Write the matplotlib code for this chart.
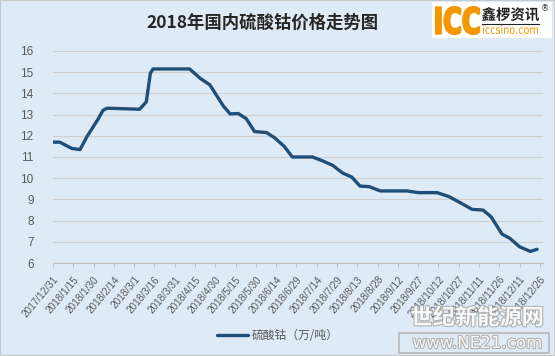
import matplotlib
matplotlib.use('Agg')
import matplotlib.pyplot as plt
import matplotlib.patheffects as pe
from matplotlib.textpath import TextPath
from matplotlib.patches import PathPatch
from matplotlib.font_manager import FontProperties
from matplotlib.transforms import Affine2D
from datetime import date, timedelta

plt.rcParams['font.family'] = ['Noto Sans CJK SC', 'DejaVu Sans']

# price of cobalt sulfate (10k yuan / ton)
dates = ['2017-12-31', '2018-01-05', '2018-01-14', '2018-01-20', '2018-01-25',
         '2018-02-02', '2018-02-06', '2018-02-09', '2018-03-05', '2018-03-10',
         '2018-03-13', '2018-03-15', '2018-04-11', '2018-04-19', '2018-04-26',
         '2018-05-01', '2018-05-06', '2018-05-11', '2018-05-17', '2018-05-23',
         '2018-05-29', '2018-06-07', '2018-06-13', '2018-06-20', '2018-06-26',
         '2018-07-04', '2018-07-11', '2018-07-19', '2018-07-26', '2018-08-02',
         '2018-08-09', '2018-08-15', '2018-08-22', '2018-08-30', '2018-09-19',
         '2018-09-27', '2018-10-11', '2018-10-20', '2018-10-28', '2018-11-06',
         '2018-11-14', '2018-11-20', '2018-11-28', '2018-12-04', '2018-12-11',
         '2018-12-19', '2018-12-24']
prices = [11.7, 11.7, 11.4, 11.35, 11.95,
          12.75, 13.2, 13.3, 13.25, 13.6,
          14.95, 15.15, 15.15, 14.7, 14.4,
          13.9, 13.4, 13.03, 13.05, 12.8,
          12.2, 12.15, 11.9, 11.5, 11.0,
          11.0, 11.0, 10.8, 10.6, 10.25,
          10.05, 9.63, 9.6, 9.4, 9.4,
          9.32, 9.32, 9.13, 8.85, 8.53,
          8.5, 8.18, 7.37, 7.16, 6.77,
          6.55, 6.65]

title = '2018年国内硫酸钴价格走势图'
series_name = '硫酸钴（万/吨）'
yticks = [6, 7, 8, 9, 10, 11, 12, 13, 14, 15, 16]

bg = '#DEEBF7'
line_color = '#1F4E79'
text_gray = '#595959'
orange = '#F39800'

x = [date.fromisoformat(d) for d in dates]
start = date(2017, 12, 31)
tick_dates = [start + timedelta(days=15 * i) for i in range(25)]
tick_labels = [f'{d.year}/{d.month}/{d.day}' for d in tick_dates]

fig = plt.figure(figsize=(5.55, 3.56), dpi=100, facecolor=bg)
fig.patches.append(plt.Rectangle((0, 0), 1, 1, transform=fig.transFigure,
                                 fill=False, edgecolor='#C8C8C8', lw=1.5))
ax = fig.add_axes([0.0955, 0.261, 0.882, 0.596])
ax.set_facecolor(bg)

ax.plot(x, prices, color=line_color, lw=2.4, solid_joinstyle='round',
        solid_capstyle='round', label=series_name, zorder=3)

ax.set_ylim(6, 16)
ax.set_yticks(yticks)
ax.set_xlim(start, start + timedelta(days=362))
ax.set_xticks(tick_dates)
ax.set_xticklabels(tick_labels, rotation=50, ha='right', rotation_mode='anchor',
                   fontsize=7.2, color=text_gray, family=['Liberation Sans'])
ax.tick_params(axis='y', length=0, labelsize=8.5, labelcolor=text_gray, pad=14)
ax.tick_params(axis='x', length=3, color='#BFBFBF', pad=5)
ax.grid(axis='y', color='#D0D0D0', lw=0.9)
ax.set_axisbelow(True)
for s in ['top', 'right', 'left']:
    ax.spines[s].set_visible(False)
ax.spines['bottom'].set_color('#BFBFBF')
for lab in ax.get_yticklabels():
    lab.set_family(['Liberation Sans'])

fig.text(0.472, 0.935, title, ha='center', va='center', fontsize=12.5,
         fontweight='bold', color='#262626')

# legend
leg = fig.legend(loc='center', bbox_to_anchor=(0.5, 0.058), frameon=False,
                 fontsize=8.5, handlelength=2.6, handletextpad=0.3)
for t in leg.get_texts():
    t.set_color(text_gray)


def fit_text(s, x0, y0, x1, y1, color, weight='bold', family='DejaVu Sans', lw=0):
    # draw text squeezed into a box given in figure pixels
    tp = TextPath((0, 0), s, size=1, prop=FontProperties(family=family, weight=weight))
    ext = tp.get_extents()
    tr = (Affine2D().translate(-ext.x0, -ext.y0)
          .scale((x1 - x0) / ext.width, (y1 - y0) / ext.height)
          .translate(x0, fig.bbox.height - y1))
    fig.patches.append(PathPatch(tp, transform=tr, facecolor=color,
                                 edgecolor=color if lw else 'none', lw=lw))


# logo box
fig.patches.append(plt.Rectangle((432 / 555, 1 - 38 / 356), 120 / 555, 36 / 356,
                                 transform=fig.transFigure, facecolor='white',
                                 edgecolor='none'))
fit_text('ICC', 436, 7, 479, 34, orange, lw=1.6)
fit_text('鑫椤资讯', 482, 7, 539, 21, '#222222', family='Noto Sans CJK SC')
fig.lines.append(plt.Line2D([482 / 555, 539 / 555], [1 - 23.5 / 356, 1 - 23.5 / 356],
                            transform=fig.transFigure, color='#222222', lw=0.8))
fit_text('iccsino.com', 483, 25, 538, 34, orange, weight='normal')
fig.text(545 / 555, 1 - 4 / 356, '®', ha='center', va='top', fontsize=6,
         color='#333333', family=['DejaVu Sans'])

# watermark
wm = [pe.withStroke(linewidth=1.5, foreground='#A8A8A8')]
fig.text(0.86, 1 - 318 / 356, '世纪新能源网', ha='center', va='center', fontsize=16,
         fontweight='bold', color='white', alpha=0.9, path_effects=wm)
fig.text(0.86, 1 - 343 / 356, 'www.NE21.com', ha='center', va='center', fontsize=12,
         color='white', alpha=0.9, family=['DejaVu Sans'], path_effects=wm)
fig.patches.append(plt.Rectangle((399 / 555, 1 - 353 / 356), 150 / 555, 20 / 356,
                                 transform=fig.transFigure, fill=False,
                                 edgecolor='#B8B8B8', lw=1.2))

fig.savefig('out.png', dpi=100, facecolor=bg)
